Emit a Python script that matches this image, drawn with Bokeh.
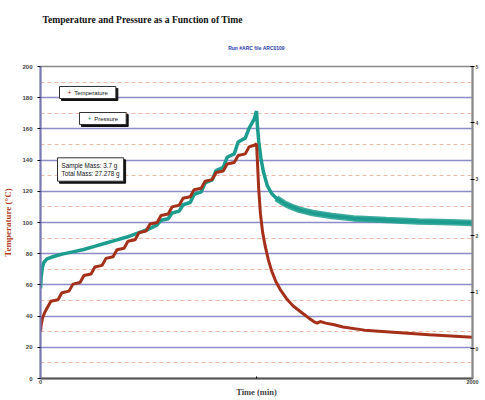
from bokeh.plotting import figure
from bokeh.models import (LinearAxis, Range1d, Label, Title,
                          SingleIntervalTicker, FixedTicker)
from bokeh.embed import file_html
from bokeh.resources import INLINE

# ---- data ----
time_T = [0, 4, 10, 20, 30, 48, 81, 99, 132, 150, 183, 201, 234, 252, 285, 303,
          336, 354, 387, 405, 438, 456, 489, 507, 540, 558, 591, 609, 642, 660,
          693, 711, 744, 762, 795, 813, 846, 864, 897, 915, 948, 966, 990, 1000,
          1004, 1010, 1018, 1028, 1040, 1055, 1070, 1090, 1110, 1140, 1170, 1207,
          1240, 1265, 1280, 1295, 1320, 1360, 1400, 1500, 1600, 1700, 1800, 1900, 2000]
temperature = [30, 35, 39, 42.5, 45, 49.5, 50.5, 55, 56, 60.5, 61.5, 66, 67, 71.5,
               72.5, 77, 78, 82.5, 83.5, 88, 89, 93.5, 94.5, 99, 100, 104.5, 105.5,
               110, 111, 115.5, 116.5, 121, 122, 126.5, 127.5, 132, 133, 137.5,
               138.5, 143, 144, 148.5, 149.5, 150.5,
               140, 122, 106, 94, 85, 76, 69, 62, 57, 51, 46.5, 42.5,
               39, 36.5, 35.5, 36.5, 35.5, 34.5, 33, 31, 30, 29, 28, 27.3, 26.5]

time_P = [0, 3, 8, 15, 30, 60, 100, 150, 200, 250, 300, 350, 400, 450, 500,
          540, 558, 591, 609, 642, 660, 693, 711, 744, 762, 795, 813, 846, 864,
          897, 915, 948, 966, 990, 1000,
          1004, 1010, 1020, 1032, 1050, 1070, 1092, 1130, 1161, 1200, 1260, 1350,
          1450, 1600, 1750, 1900, 2000]
pressure = [1.067, 1.260, 1.425, 1.522, 1.591, 1.632, 1.674, 1.715, 1.756, 1.811,
            1.867, 1.922, 1.977, 2.046, 2.115,
            2.192, 2.275, 2.302, 2.404, 2.437, 2.550, 2.589, 2.732, 2.779, 2.936,
            2.989, 3.157, 3.212, 3.391, 3.452, 3.661, 3.730, 3.907, 4.072, 4.210,
            3.962, 3.686, 3.383, 3.135, 2.887, 2.749, 2.666, 2.570, 2.515, 2.459,
            2.404, 2.349, 2.308, 2.280, 2.253, 2.239, 2.225]

temp_ticks = [0, 20, 40, 60, 80, 100, 120, 140, 160, 180, 200]
pres_ticks = [0, 1, 2, 3, 4, 5]
time_ticks = [0, 1000, 2000]
time_tick_labels = {0: "0", 1000: "", 2000: "2000"}

title_text = "Temperature and Pressure as a Function of Time"
subtitle_text = "Run #ARC file ARC0109"
info_text = "Sample Mass: 3.7 g\nTotal Mass: 27.278 g"
NB = "\u00a0"

TEMP_COLOR = "#a5301a"
PRES_COLOR = "#1c9c8e"

p = figure(width=485, height=400, x_range=Range1d(0, 2000), y_range=Range1d(0, 200),
           output_backend="svg", toolbar_location=None,
           min_border_left=38, min_border_right=13, min_border_top=66,
           min_border_bottom=22)
p.extra_y_ranges = {"p": Range1d(-0.53, 5.0)}
p.outline_line_color = "#888888"
p.outline_line_width = 1.5
p.background_fill_color = "#ffffff"
p.border_fill_color = "#ffffff"

# titles
p.title.text = title_text
p.title.align = "left"
p.title.offset = 2
p.title.text_font = "Liberation Serif"
p.title.text_font_size = "9.6px"
p.title.text_font_style = "bold"
p.title.text_color = "#111111"
p.title.standoff = 6
sub = Title(text=subtitle_text, align="center", offset=-25, text_font="Liberation Sans",
            text_font_size="5px", text_font_style="bold", text_color="#2a3aa8",
            standoff=31)
p.add_layout(sub, "above")

# grid
p.xgrid.visible = False
p.yaxis.ticker = SingleIntervalTicker(interval=20, num_minor_ticks=2)
p.ygrid.grid_line_color = "#8c8cc8"
p.ygrid.grid_line_width = 1.3
p.ygrid.minor_grid_line_color = "#f2b8a6"
p.ygrid.minor_grid_line_dash = "4 3"
p.ygrid.minor_grid_line_width = 1

# left axis
ya = p.yaxis[0]
ya.axis_label = "Temperature (°C)"
ya.axis_label_text_color = "#b2401e"
ya.axis_label_text_font = "Liberation Serif"
ya.axis_label_text_font_size = "9px"
ya.axis_label_text_font_style = "bold"
ya.axis_label_standoff = 6
ya.axis_line_color = "#7878b8"
ya.axis_line_width = 2
ya.major_tick_in = 0
ya.major_tick_out = 3
ya.minor_tick_in = 0
ya.minor_tick_out = 0
ya.major_label_text_font = "Liberation Sans"
ya.major_label_text_font_size = "6px"
ya.major_label_text_font_style = "bold"
ya.major_label_standoff = 5

# bottom axis
xa = p.xaxis[0]
xa.ticker = FixedTicker(ticks=time_ticks)
xa.major_label_overrides = time_tick_labels
xa.axis_label = "Time (min)"
xa.axis_label_text_font = "Liberation Serif"
xa.axis_label_text_font_size = "8.5px"
xa.axis_label_text_font_style = "bold"
xa.axis_label_standoff = 0
xa.axis_line_color = "#555555"
xa.axis_line_width = 2
xa.major_tick_in = 2
xa.major_tick_out = 0
xa.minor_tick_out = 0
xa.major_label_text_font = "Liberation Sans"
xa.major_label_text_font_size = "5.5px"
xa.major_label_text_font_style = "bold"
xa.major_label_standoff = 1

# right axis
ra = LinearAxis(y_range_name="p", ticker=FixedTicker(ticks=pres_ticks))
ra.axis_line_color = "#888888"
ra.axis_line_width = 2
ra.major_tick_in = 2
ra.major_tick_out = 2
ra.minor_tick_out = 0
ra.major_label_text_font_size = "5px"
ra.major_label_text_font_style = "bold"
ra.major_label_standoff = 1
p.add_layout(ra, "right")

# data
p.line(time_P, pressure, y_range_name="p", line_color=PRES_COLOR, line_width=3.5)
p.line(time_P[41:], pressure[41:], y_range_name="p", line_color=PRES_COLOR,
       line_width=6.5, line_alpha=0.85)
p.line(time_T, temperature, line_color=TEMP_COLOR, line_width=3)


def boxed(x, y, text, size="6px", pad=3):
    common = dict(x_units="screen", y_units="screen", text=text,
                  text_font="Liberation Sans", text_font_size=size,
                  text_baseline="middle", padding=pad)
    p.add_layout(Label(x=x + 2, y=y - 2, text_color="#111111",
                       background_fill_color="#111111", border_line_color="#111111",
                       **common))
    p.add_layout(Label(x=x, y=y, text_color="#111111", background_fill_color="#ffffff",
                       border_line_color="#333333", border_line_width=1, **common))


boxed(19, 286, NB * 7 + "Temperature" + NB * 3)
p.add_layout(Label(x=27, y=286, x_units="screen", y_units="screen", text="+",
                   text_font_size="7px", text_baseline="middle", text_color=TEMP_COLOR))
boxed(39, 260, NB * 7 + "Pressure" + NB * 3)
p.add_layout(Label(x=47, y=260, x_units="screen", y_units="screen", text="+",
                   text_font_size="7px", text_baseline="middle", text_color=PRES_COLOR))
boxed(17, 209, info_text, size="6.3px", pad=4)

open("out.html", "w").write(file_html(p, INLINE))
